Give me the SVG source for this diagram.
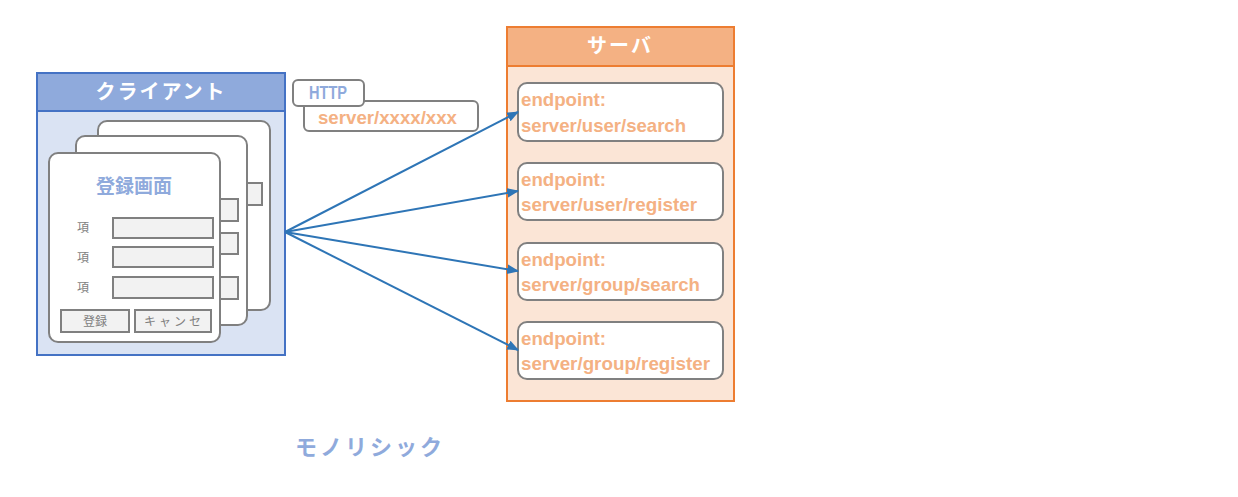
<svg xmlns="http://www.w3.org/2000/svg" width="1238" height="497" viewBox="0 0 1238 497">
<style>
.t{font-family:"Liberation Sans","Noto Sans CJK JP",sans-serif;font-weight:bold}
.jp{font-family:"Noto Sans CJK JP","Liberation Sans",sans-serif}
.card{fill:#ffffff;stroke:#808080;stroke-width:2}
.fld{fill:#f2f2f2;stroke:#808080;stroke-width:2}
.lbl{font-size:12px;fill:#7f7f7f}
.ep{fill:#ffffff;stroke:#808080;stroke-width:2}
.ept{font-size:19px;fill:#f4b183}
.conn{stroke:#2e75b6;stroke-width:2;fill:none;marker-end:url(#arr)}
</style>
<defs>
<marker id="arr" viewBox="0 0 10 10" refX="9" refY="5" markerWidth="6" markerHeight="6" orient="auto" markerUnits="strokeWidth">
<path d="M0,1 L10,5 L0,9 z" fill="#2e75b6"/>
</marker>
</defs>
<rect width="1238" height="497" fill="#ffffff"/>

<g id="client">
<rect x="37" y="73" width="248" height="282" fill="#dae3f3" stroke="#4472c4" stroke-width="2"/>
<rect x="37" y="73" width="248" height="38" fill="#8faadc" stroke="#4472c4" stroke-width="2"/>
<text class="jp" x="161" y="99" font-size="20" font-weight="bold" fill="#ffffff" text-anchor="middle" letter-spacing="2">クライアント</text>
</g>

<g id="card3">
<rect class="card" x="98" y="121" width="172" height="189" rx="9"/>
<rect class="fld" x="150" y="183" width="112" height="22"/>
</g>
<g id="card2">
<rect class="card" x="76" y="136" width="171" height="189" rx="9"/>
<rect class="fld" x="140" y="199" width="98" height="22"/>
<rect class="fld" x="140" y="233" width="98" height="21"/>
<rect class="fld" x="140" y="277" width="98" height="22"/>
<text class="jp lbl" x="188" y="293" text-anchor="middle" letter-spacing="3">キャンセ</text>
</g>
<g id="card1">
<rect class="card" x="49" y="153" width="171" height="189" rx="9"/>
<text class="jp" x="134" y="193" font-size="19" font-weight="bold" fill="#8faadc" text-anchor="middle">登録画面</text>
<text class="jp lbl" x="83" y="232" text-anchor="middle">項</text>
<text class="jp lbl" x="83" y="262" text-anchor="middle">項</text>
<text class="jp lbl" x="83" y="292" text-anchor="middle">項</text>
<rect class="fld" x="113" y="218" width="100" height="20"/>
<rect class="fld" x="113" y="247" width="100" height="20"/>
<rect class="fld" x="113" y="277" width="100" height="21"/>
<rect class="fld" x="61" y="310" width="68" height="22"/>
<text class="jp lbl" x="95" y="326" text-anchor="middle">登録</text>
<rect class="fld" x="135" y="310" width="76" height="22"/>
<text class="jp lbl" x="174" y="326" text-anchor="middle" letter-spacing="3">キャンセ</text>
</g>

<g id="http">
<rect x="304" y="101" width="174" height="30" rx="5" fill="#ffffff" stroke="#808080" stroke-width="2"/>
<rect x="293" y="80" width="71" height="26" rx="5" fill="#ffffff" stroke="#808080" stroke-width="2"/>
<text class="t" x="309" y="99" font-size="18" fill="#8faadc" textLength="38" lengthAdjust="spacingAndGlyphs">HTTP</text>
<text class="t" x="318" y="124" font-size="19" fill="#f4b183" textLength="139" lengthAdjust="spacingAndGlyphs">server/xxxx/xxx</text>
</g>

<g id="server">
<rect x="507" y="27" width="227" height="374" fill="#fbe5d6" stroke="#ed7d31" stroke-width="2"/>
<rect x="507" y="27" width="227" height="39" fill="#f4b183" stroke="#ed7d31" stroke-width="2"/>
<text class="jp" x="620" y="53" font-size="20" font-weight="bold" fill="#ffffff" text-anchor="middle" letter-spacing="2">サーバ</text>
</g>

<g id="ep1">
<rect class="ep" x="518" y="83" width="205" height="58" rx="9"/>
<text class="t ept" x="521" y="106" textLength="85" lengthAdjust="spacingAndGlyphs">endpoint:</text>
<text class="t ept" x="521" y="132" textLength="165" lengthAdjust="spacingAndGlyphs">server/user/search</text>
</g>
<g id="ep2">
<rect class="ep" x="518" y="163" width="205" height="57" rx="9"/>
<text class="t ept" x="521" y="186" textLength="85" lengthAdjust="spacingAndGlyphs">endpoint:</text>
<text class="t ept" x="521" y="211" textLength="176" lengthAdjust="spacingAndGlyphs">server/user/register</text>
</g>
<g id="ep3">
<rect class="ep" x="518" y="243" width="205" height="57" rx="9"/>
<text class="t ept" x="521" y="266" textLength="85" lengthAdjust="spacingAndGlyphs">endpoint:</text>
<text class="t ept" x="521" y="291" textLength="179" lengthAdjust="spacingAndGlyphs">server/group/search</text>
</g>
<g id="ep4">
<rect class="ep" x="518" y="322" width="205" height="57" rx="9"/>
<text class="t ept" x="521" y="345" textLength="85" lengthAdjust="spacingAndGlyphs">endpoint:</text>
<text class="t ept" x="521" y="370" textLength="189" lengthAdjust="spacingAndGlyphs">server/group/register</text>
</g>

<g id="connectors">
<line class="conn" x1="285" y1="232" x2="518" y2="112"/>
<line class="conn" x1="285" y1="232" x2="518" y2="191"/>
<line class="conn" x1="285" y1="232" x2="518" y2="271"/>
<line class="conn" x1="285" y1="232" x2="518" y2="350"/>
</g>

<text class="jp" x="370" y="455" font-size="22" font-weight="bold" fill="#8faadc" text-anchor="middle" letter-spacing="3">モノリシック</text>
</svg>
